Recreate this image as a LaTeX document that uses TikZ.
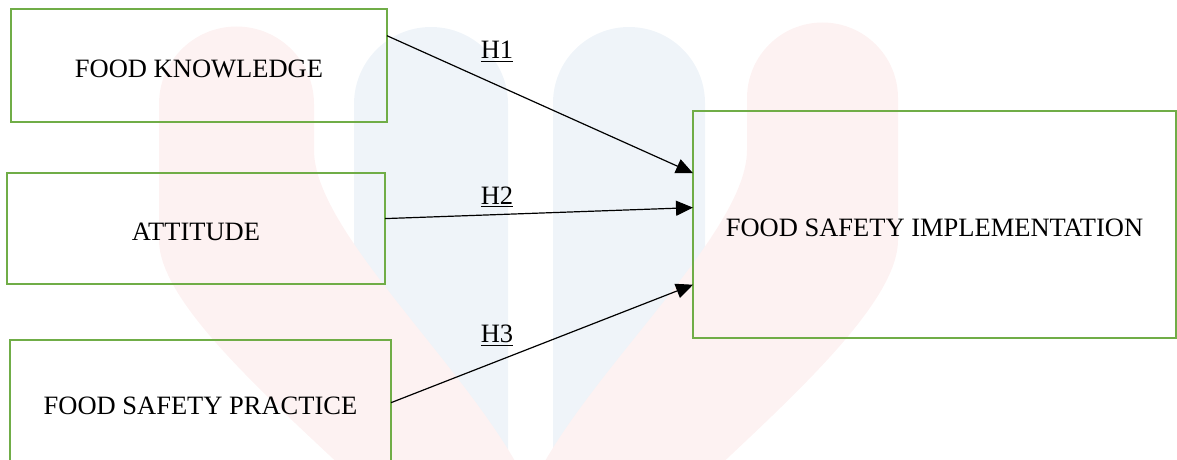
\documentclass[tikz,border=0pt]{standalone}
\usepackage{fontspec}
\setmainfont{Liberation Serif}
\usepackage{tikz}
\usetikzlibrary{arrows.meta}
\definecolor{boxgreen}{RGB}{112,173,71}
\definecolor{wmred}{RGB}{253,242,242}
\definecolor{wmblue}{RGB}{239,244,249}
\tikzset{
varbox/.style={draw=boxgreen,line width=1.3pt,inner sep=0pt,outer sep=0pt,text height=12pt,text depth=0pt,font=\fontsize{13.25}{16}\selectfont,align=center},
hyp/.style={font=\fontsize{13.25}{16}\selectfont,inner sep=0pt,anchor=base},
patharrow/.style={-{Triangle[length=8.5pt,width=7.5pt]},line width=0.6pt,black},
wmarkred/.style={fill=wmred},
wmarkblue/.style={fill=wmblue}
}

\begin{document}
\begin{tikzpicture}[x=0.5pt,y=-0.5pt]
\useasboundingbox (0,0) rectangle (1177,460);
\clip (0,0) rectangle (1177,460);
% faint logo behind the model
\fill[wmarkblue] (354,470) -- (354,104) arc[start angle=180,end angle=360,radius=77] -- (508,470) -- cycle;
\fill[wmarkblue] (553,470) -- (553,103) arc[start angle=180,end angle=360,radius=76] -- (705,470) -- cycle;
\fill[wmarkred] (345,470) .. controls (260,390) and (159,300) .. (159,240) -- (159,104) arc[start angle=180,end angle=360,radius=77.5] -- (314,150) .. controls (314,230) and (460,360) .. (520,470) -- cycle;
\fill[wmarkred] (540,470) .. controls (600,360) and (747,230) .. (747,150) -- (747,98) arc[start angle=180,end angle=360,radius=75.5] -- (898,240) .. controls (898,300) and (800,390) .. (715,470) -- cycle;
% constructs
\node[varbox,minimum width=188pt,minimum height=56.5pt] (kn) at (199,65.5) {FOOD KNOWLEDGE};
\node[varbox,minimum width=189pt,minimum height=55.5pt] (att) at (196,228.5) {ATTITUDE};
\node[varbox,text height=8.75pt,minimum width=190.5pt,minimum height=66pt] (fsp) at (200.5,406) {FOOD SAFETY PRACTICE};
\node[varbox,minimum width=241.5pt,minimum height=113.5pt] (fsi) at (934.5,224.5) {FOOD SAFETY IMPLEMENTATION};
\node[hyp] (h1) at (497,59) {\underline{H1}};
\node[hyp] (h2) at (497,204) {\underline{H2}};
\node[hyp] (h3) at (497,342) {\underline{H3}};
\draw[patharrow] (kn.9) -- (fsi.168);
\draw[patharrow] (att.3) -- (fsi.176);
\draw[patharrow] (fsp.1) -- (fsi.194);
\end{tikzpicture}
\end{document}
